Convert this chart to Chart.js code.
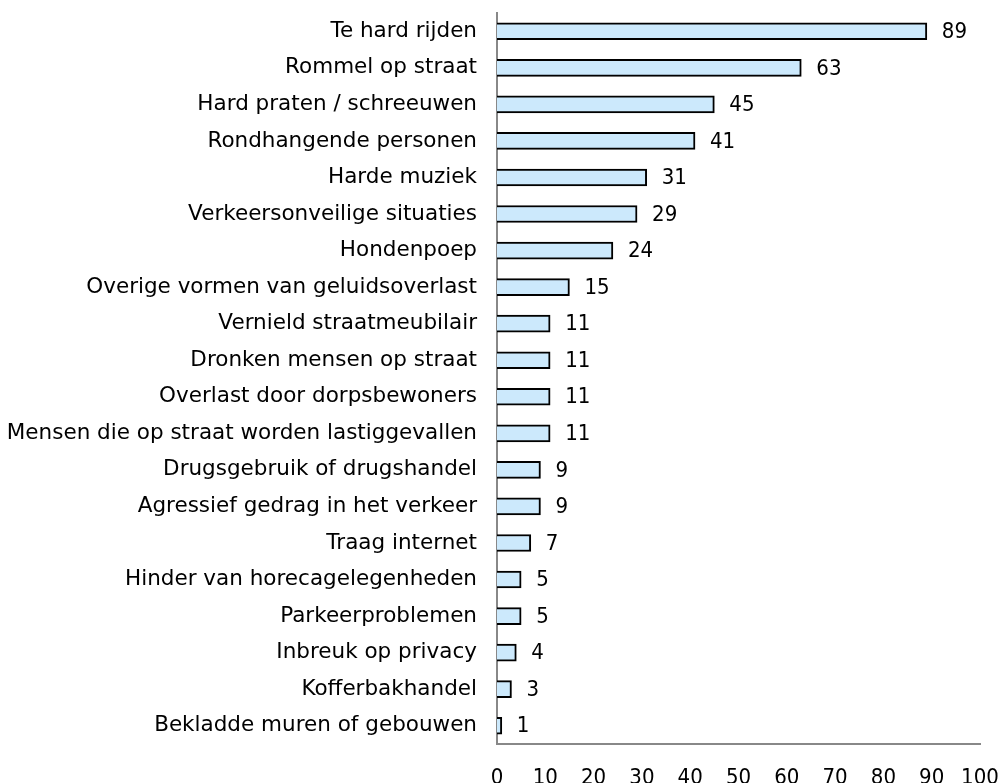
<!DOCTYPE html>
<html>
<head>
<meta charset="utf-8">
<script src="https://cdn.jsdelivr.net/npm/chart.js@4"></script>
<style>
html,body{margin:0;padding:0;background:#fff;}
#wrap{width:998px;height:783px;}
</style>
</head>
<body>
<div id="wrap"><canvas id="c" width="998" height="783"></canvas></div>
<script>
const categories = [
  "Te hard rijden",
  "Rommel op straat",
  "Hard praten / schreeuwen",
  "Rondhangende personen",
  "Harde muziek",
  "Verkeersonveilige situaties",
  "Hondenpoep",
  "Overige vormen van geluidsoverlast",
  "Vernield straatmeubilair",
  "Dronken mensen op straat",
  "Overlast door dorpsbewoners",
  "Mensen die op straat worden lastiggevallen",
  "Drugsgebruik of drugshandel",
  "Agressief gedrag in het verkeer",
  "Traag internet",
  "Hinder van horecagelegenheden",
  "Parkeerproblemen",
  "Inbreuk op privacy",
  "Kofferbakhandel",
  "Bekladde muren of gebouwen"
];
const values = [89, 63, 45, 41, 31, 29, 24, 15, 11, 11, 11, 11, 9, 9, 7, 5, 5, 4, 3, 1];
const xTicks = [0, 10, 20, 30, 40, 50, 60, 70, 80, 90, 100];

const FONT = "'DejaVu Sans', sans-serif";
const NUMFONT = "'DejaVu Sans Condensed', 'DejaVu Sans', sans-serif";

const labelPlugin = {
  id: 'barLabels',
  afterDatasetsDraw(chart) {
    const ctx = chart.ctx;
    const meta = chart.getDatasetMeta(0);
    ctx.save();
    ctx.font = "22px " + NUMFONT;
    ctx.fillStyle = "#000";
    ctx.textAlign = "left";
    ctx.textBaseline = "middle";
    meta.data.forEach((bar, i) => {
      ctx.fillText(String(values[i]), bar.x + 15, bar.y + 1);
    });
    ctx.restore();
  }
};

new Chart(document.getElementById('c'), {
  type: 'bar',
  data: {
    labels: categories,
    datasets: [{
      data: values,
      backgroundColor: '#cce9fc',
      borderColor: '#000',
      borderWidth: 2,
      barThickness: 17
    }]
  },
  plugins: [labelPlugin],
  options: {
    indexAxis: 'y',
    responsive: false,
    animation: false,
    devicePixelRatio: 1,
    layout: { padding: { top: 13, right: 18, left: 0, bottom: 0 } },
    plugins: { legend: { display: false }, tooltip: { enabled: false } },
    scales: {
      x: {
        min: 0, max: 100,
        afterBuildTicks(axis) { axis.ticks = xTicks.map(v => ({ value: v })); },
        afterFit(axis) { axis.height = 39; axis.paddingLeft = 0; axis.paddingRight = 0; axis.paddingTop = 0; axis.paddingBottom = 0; },
        grid: { display: false, drawTicks: false },
        border: { display: true, color: '#888', width: 2 },
        ticks: { color: '#000', padding: 21, font: { family: NUMFONT, size: 22 }, maxRotation: 0, autoSkip: false }
      },
      y: {
        afterFit(axis) { axis.width = 497; axis.paddingLeft = 0; axis.paddingRight = 0; axis.paddingTop = 0; axis.paddingBottom = 0; },
        grid: { display: false, drawTicks: false },
        border: { display: true, color: '#888', width: 2 },
        ticks: { color: '#000', padding: 20, font: { family: FONT, size: 21.5 }, autoSkip: false }
      }
    }
  }
});
</script>
</body>
</html>
